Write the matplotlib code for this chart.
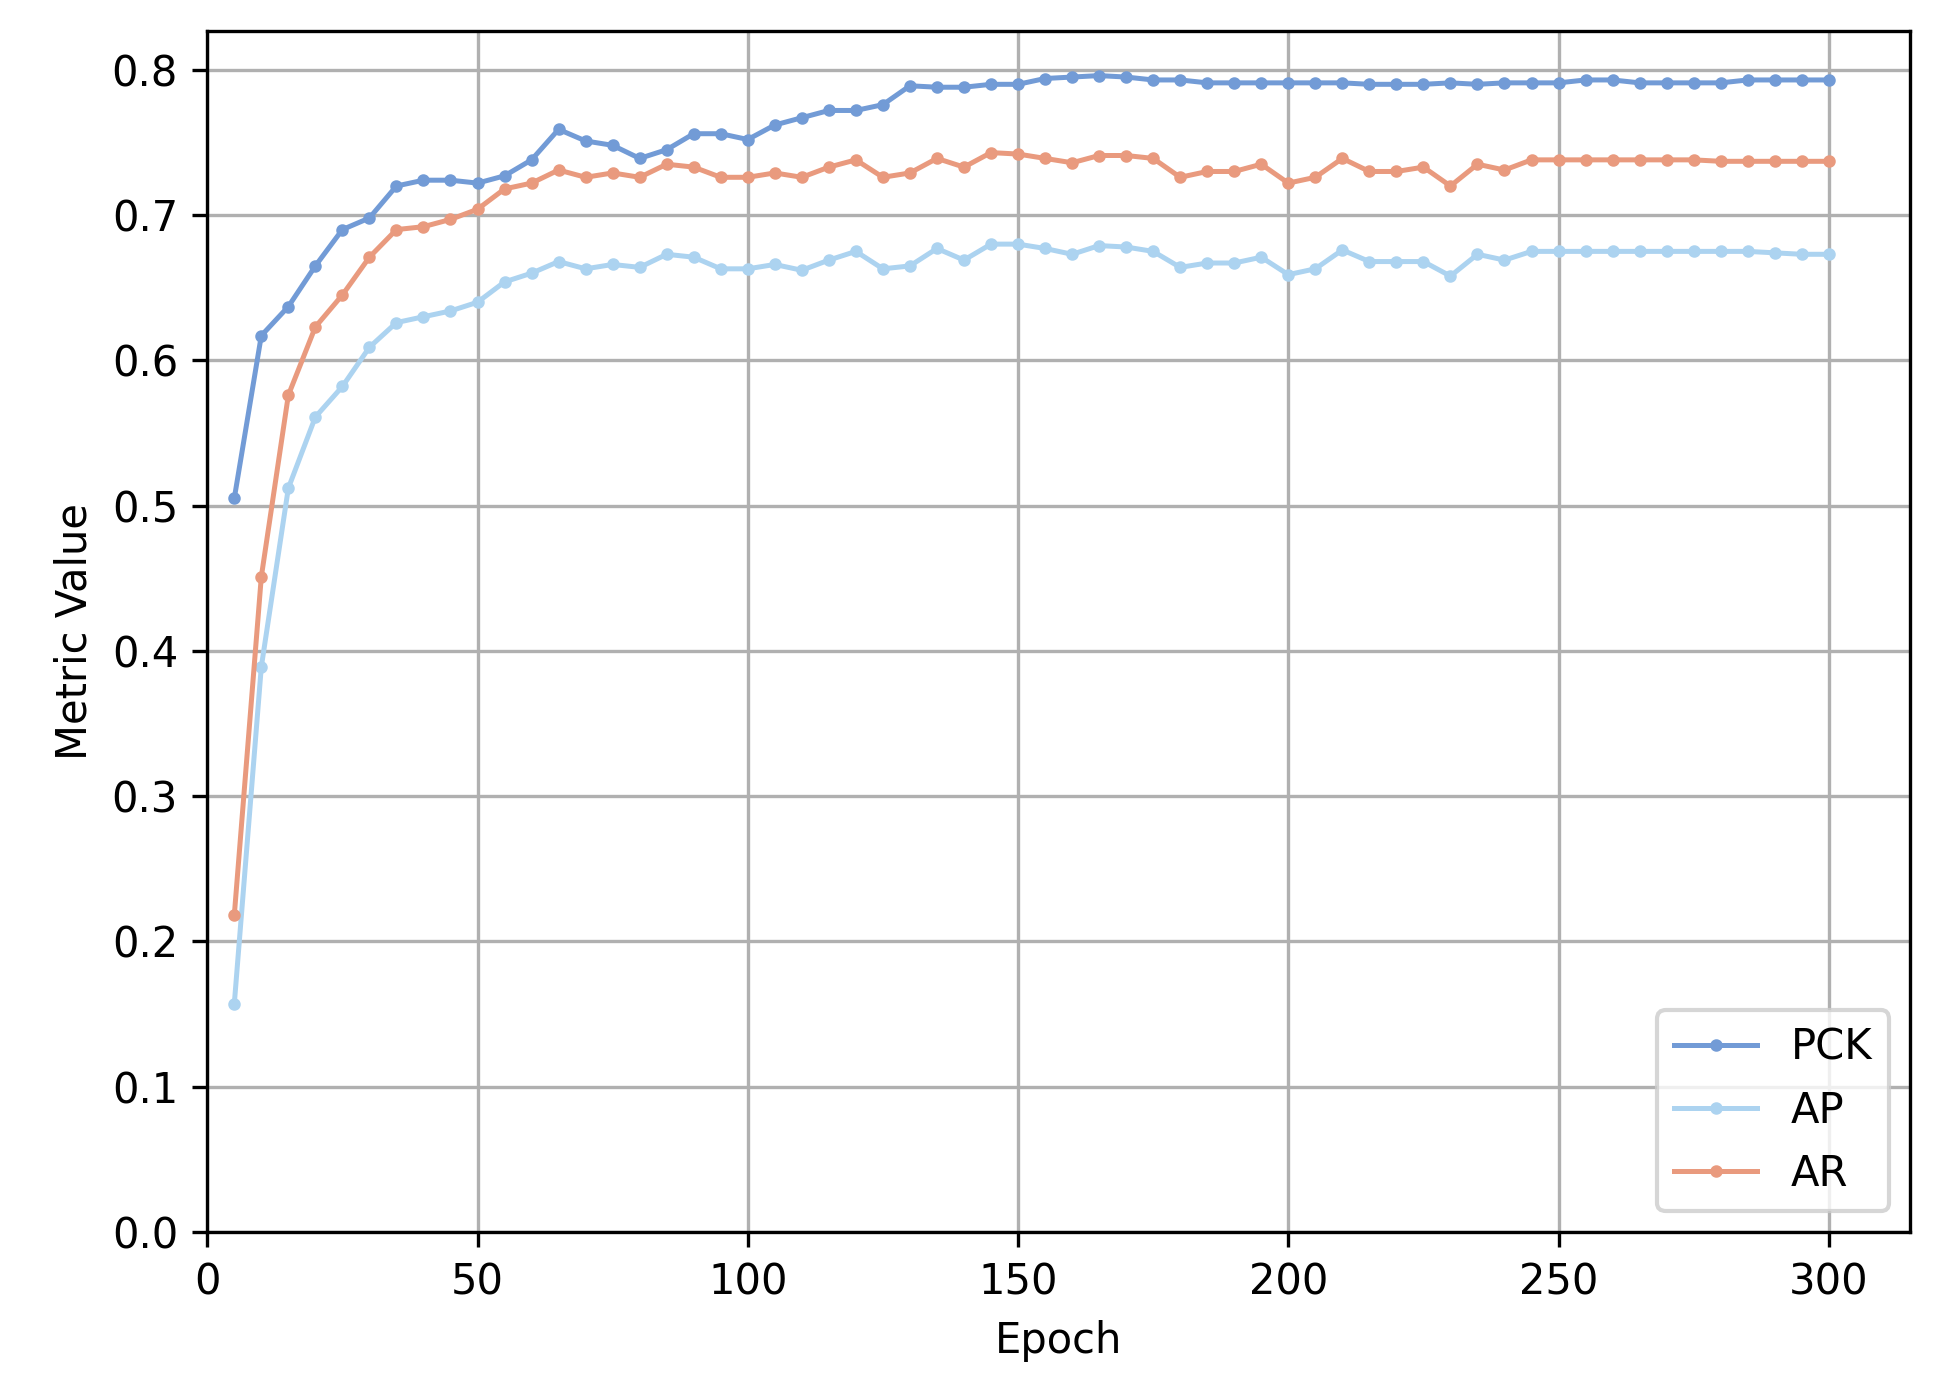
import matplotlib
matplotlib.use("Agg")
import matplotlib.pyplot as plt
import numpy as np

epochs = list(range(5, 301, 5))
pck = [0.505,0.617,0.637,0.665,0.690,0.698,0.720,0.724,0.724,0.722,0.727,0.738,0.759,0.751,0.748,0.739,0.745,0.756,0.756,0.752,
       0.762,0.767,0.772,0.772,0.776,0.789,0.788,0.788,0.790,0.790,0.794,0.795,0.796,0.795,0.793,0.793,0.791,0.791,0.791,0.791,
       0.791,0.791,0.790,0.790,0.790,0.791,0.790,0.791,0.791,0.791,0.793,0.793,0.791,0.791,0.791,0.791,0.793,0.793,0.793,0.793]
ap = [0.157,0.389,0.512,0.561,0.582,0.609,0.626,0.630,0.634,0.640,0.654,0.660,0.668,0.663,0.666,0.664,0.673,0.671,0.663,0.663,
      0.666,0.662,0.669,0.675,0.663,0.665,0.677,0.669,0.680,0.680,0.677,0.673,0.679,0.678,0.675,0.664,0.667,0.667,0.671,0.659,
      0.663,0.676,0.668,0.668,0.668,0.658,0.673,0.669,0.675,0.675,0.675,0.675,0.675,0.675,0.675,0.675,0.675,0.674,0.673,0.673]
ar = [0.218,0.451,0.576,0.623,0.645,0.671,0.690,0.692,0.697,0.704,0.718,0.722,0.731,0.726,0.729,0.726,0.735,0.733,0.726,0.726,
      0.729,0.726,0.733,0.738,0.726,0.729,0.739,0.733,0.743,0.742,0.739,0.736,0.741,0.741,0.739,0.726,0.730,0.730,0.735,0.722,
      0.726,0.739,0.730,0.730,0.733,0.720,0.735,0.731,0.738,0.738,0.738,0.738,0.738,0.738,0.738,0.737,0.737,0.737,0.737,0.737]

fig = plt.figure(figsize=(1937/300, 1389/300), dpi=300)
ax = fig.add_axes([0.107, 0.113, 0.879, 0.865])
ax.plot(epochs, pck, color="#729bd6", marker="o", markersize=2, linewidth=1.2, label="PCK")
ax.plot(epochs, ap, color="#acd3f0", marker="o", markersize=2, linewidth=1.2, label="AP")
ax.plot(epochs, ar, color="#e99a7e", marker="o", markersize=2, linewidth=1.2, label="AR")
ax.set_xlim(0, 315)
ax.set_ylim(0, 0.827)
ax.set_xticks([0, 50, 100, 150, 200, 250, 300])
ax.set_yticks(np.arange(0, 0.81, 0.1))
ax.tick_params(labelsize=10)
ax.grid(True, color="#b0b0b0", linewidth=0.8)
ax.set_xlabel("Epoch", fontsize=10)
ax.set_ylabel("Metric Value", fontsize=10)
ax.legend(loc="lower right", fontsize=10)
fig.savefig("out.png", dpi=300)
